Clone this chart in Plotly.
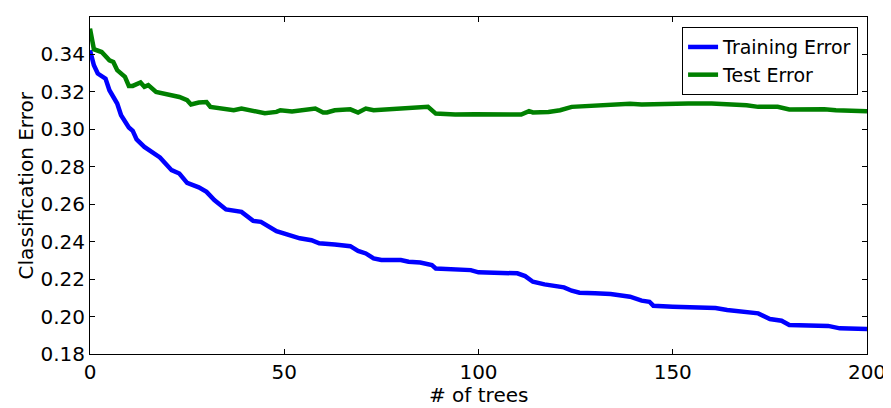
import plotly.graph_objects as go

train_trees = [0, 1, 2, 4, 5, 7, 8, 10, 11, 12, 14, 17, 18, 21, 23, 25, 28, 30, 32, 35, 37, 39, 42, 44, 48, 51,
               54, 57, 59, 63, 67, 69, 71, 73, 75, 80, 82, 85, 88, 89, 94, 98, 100, 105, 110, 112, 114, 117, 119,
               122, 124, 126, 130, 134, 139, 142, 144, 145, 150, 157, 161, 164, 166, 168, 172, 175, 178, 180,
               184, 190, 193, 200]
train_error = [0.3422, 0.3342, 0.3298, 0.3271, 0.3209, 0.3138, 0.3075, 0.3010, 0.2992, 0.2946, 0.2906, 0.2862,
               0.2850, 0.2782, 0.2764, 0.2714, 0.2690, 0.2666, 0.2622, 0.2572, 0.2563, 0.2559, 0.2511, 0.2506,
               0.2456, 0.2438, 0.2418, 0.2408, 0.2391, 0.2385, 0.2376, 0.2351, 0.2337, 0.2311, 0.2302, 0.2302,
               0.2293, 0.2289, 0.2275, 0.2257, 0.2254, 0.2248, 0.2236, 0.2231, 0.2231, 0.2216, 0.2186, 0.2172,
               0.2165, 0.2156, 0.2138, 0.2127, 0.2124, 0.2120, 0.2106, 0.2085, 0.2079, 0.2058, 0.2053, 0.2049,
               0.2046, 0.2035, 0.2031, 0.2021, 0.2017, 0.1987, 0.1978, 0.1955, 0.1951, 0.1950, 0.1937, 0.1934]

test_trees = [0, 1, 3, 5, 6, 7, 9, 10, 11, 13, 14, 15, 17, 20, 23, 25, 26, 28, 30, 31, 34, 37, 39, 43, 45, 48,
              49, 52, 54, 58, 60, 61, 63, 67, 69, 71, 73, 77, 81, 84, 87, 89, 94, 99, 103, 108, 111, 113, 114,
              118, 121, 124, 128, 134, 139, 142, 148, 154, 160, 166, 169, 172, 177, 180, 184, 189, 192, 196, 200]
test_error = [0.3538, 0.3428, 0.3413, 0.3369, 0.3360, 0.3316, 0.3280, 0.3232, 0.3232, 0.3250, 0.3227, 0.3236,
              0.3200, 0.3186, 0.3173, 0.3156, 0.3133, 0.3143, 0.3146, 0.3120, 0.3111, 0.3102, 0.3111, 0.3093,
              0.3086, 0.3093, 0.3102, 0.3095, 0.3102, 0.3111, 0.3090, 0.3090, 0.3102, 0.3107, 0.3090, 0.3111,
              0.3102, 0.3107, 0.3111, 0.3116, 0.3120, 0.3084, 0.3079, 0.3081, 0.3079, 0.3075, 0.3079, 0.3097,
              0.3090, 0.3093, 0.3102, 0.3120, 0.3125, 0.3129, 0.3136, 0.3133, 0.3138, 0.3138, 0.3138, 0.3134,
              0.3129, 0.3120, 0.3120, 0.3106, 0.3107, 0.3107, 0.3102, 0.3102, 0.3097]

x_ticks = [0, 50, 100, 150, 200]
y_ticks = [0.18, 0.20, 0.22, 0.24, 0.26, 0.28, 0.30, 0.32, 0.34, 0.36]

FONT = "DejaVu Sans"

fig = go.Figure()
fig.add_trace(go.Scatter(x=train_trees, y=train_error, mode="lines", name="Training Error",
                         line=dict(color="#0000ff", width=4.5)))
fig.add_trace(go.Scatter(x=test_trees, y=test_error, mode="lines", name="Test Error",
                         line=dict(color="#008000", width=4.5)))

axis_common = dict(showgrid=False, zeroline=False, showline=True, linecolor="black", linewidth=1,
                   mirror="allticks", ticks="inside", ticklen=5, tickcolor="black", tickwidth=1,
                   automargin=False, tickfont=dict(family=FONT, size=20, color="black"))

fig.update_xaxes(range=[0, 200], tickvals=x_ticks, ticktext=[str(v) for v in x_ticks], **axis_common)
fig.update_yaxes(range=[0.18, 0.36], tickvals=y_ticks, ticktext=[f"{v:.2f}" for v in y_ticks], **axis_common)

fig.update_layout(
    width=883, height=400,
    margin=dict(l=82, r=24, t=9, b=54),
    plot_bgcolor="white", paper_bgcolor="white",
    font=dict(family=FONT, size=20, color="black"),
    legend=dict(x=0.9885, y=0.97, xanchor="right", yanchor="top",
                bordercolor="black", borderwidth=1, bgcolor="white",
                font=dict(family=FONT, size=19, color="black")),
    annotations=[
        dict(text="# of trees", xref="paper", yref="paper", x=0.5, y=0, yshift=-41,
             xanchor="center", yanchor="middle", showarrow=False,
             font=dict(family=FONT, size=20, color="black")),
        dict(text="Classification Error", xref="paper", yref="paper", x=0, y=0.5, xshift=-65,
             xanchor="center", yanchor="middle", textangle=-90, showarrow=False,
             font=dict(family=FONT, size=20, color="black")),
    ],
)

fig.write_html("out.html")
